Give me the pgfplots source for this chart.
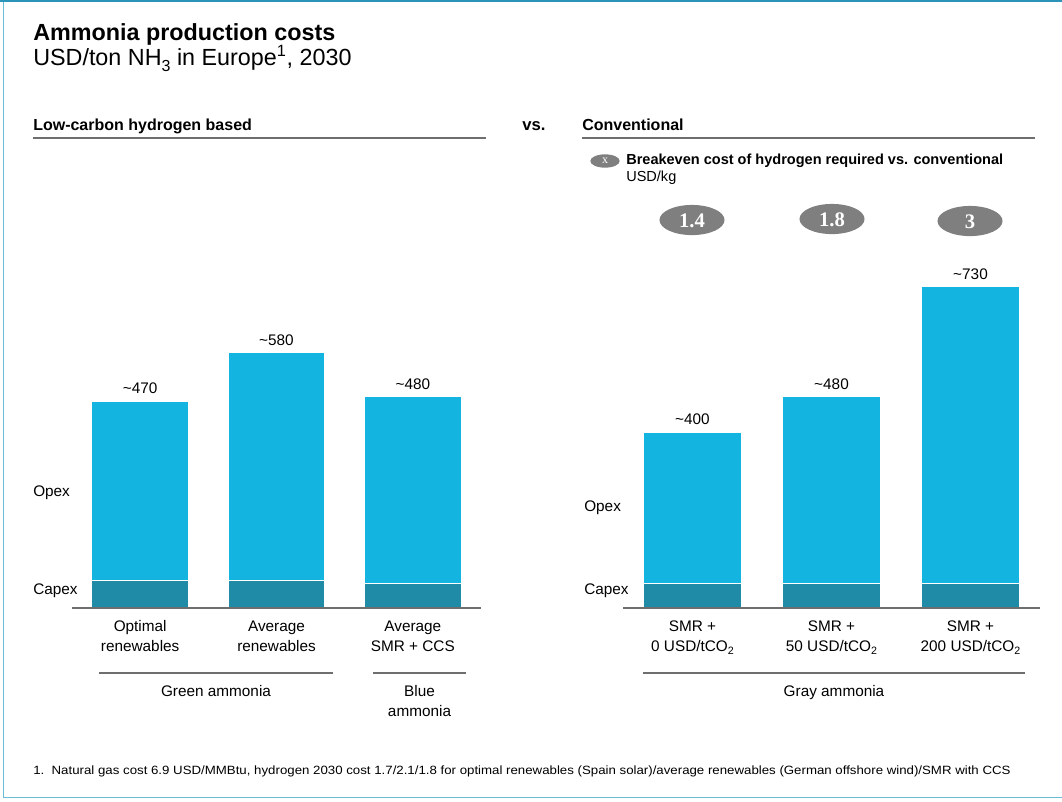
\documentclass[border=0pt]{standalone}
\usepackage{pgfplots}
\pgfplotsset{compat=1.18}
\usepackage{fontspec}
\usepackage{graphicx}
\setmainfont{Liberation Sans}
\newfontfamily\serifbold{Liberation Serif}
\definecolor{opex}{HTML}{14B4E1}
\definecolor{capex}{HTML}{1F8BA7}
\definecolor{ellgray}{HTML}{7F7F7F}
\definecolor{frametop}{HTML}{2B94B8}
\definecolor{frameleft}{HTML}{6BBCD6}
\definecolor{rule}{HTML}{6E6E6E}
\newcommand{\lbl}{\fontsize{11.5}{15}\selectfont}
\newcommand{\subl}[1]{\raisebox{-0.45ex}{\fontsize{8}{9}\selectfont #1}}
\pgfplotsset{chartstyle/.style={
  scale only axis, height=264pt,
  xmin=-0.5, xmax=2.5, ymin=0, ymax=800,
  ybar stacked, axis on top,
  axis x line=bottom, axis y line=none,
  x axis line style={-, draw=rule, line width=0.9pt},
  xtick={0,1,2}, major tick length=0pt,
  xticklabel style={align=center, font=\lbl, inner sep=0pt, yshift=-9.25pt},
  clip=false},
  toplabel/.style={opacity=0, fill opacity=0, draw opacity=0,
  nodes near coords, point meta=explicit symbolic,
  every node near coord/.append style={font=\lbl, inner sep=0pt, text=black, text opacity=1, opacity=1, anchor=south, yshift=5.5pt}}}
\begin{document}
\begin{tikzpicture}
\begin{scope}[x=0.75pt,y=-0.75pt]
\useasboundingbox (0,0) rectangle (1062,801);
% frame
\draw[frameleft, line width=0.9pt] (3.5,0) -- (3.5,797.5) -- (1062,797.5);
\draw[frametop, line width=1.8pt] (0,1.2) -- (1062,1.2);
% titles
\node[anchor=base west, inner sep=0pt, font=\bfseries\fontsize{17.5}{20}\selectfont] at (33,40) {Ammonia production costs};
\node[anchor=base west, inner sep=0pt, font=\fontsize{17.5}{20}\selectfont] at (33,65) {USD/ton NH\raisebox{-0.5ex}{\fontsize{12}{13}\selectfont 3} in Europe\textsuperscript{1}, 2030};
% section headers
\node[anchor=base west, inner sep=0pt, font=\bfseries\fontsize{12}{15}\selectfont] at (33,130) {Low-carbon hydrogen based};
\draw[rule, line width=0.8pt] (33,138) -- (486,138);
\node[anchor=base west, inner sep=0pt, font=\bfseries\fontsize{12.5}{15}\selectfont] at (522,130) {vs.};
\node[anchor=base west, inner sep=0pt, font=\bfseries\fontsize{12}{15}\selectfont] at (582,130) {Conventional};
\draw[rule, line width=0.8pt] (582,138) -- (1035,138);
% breakeven legend
\fill[ellgray] (605,161) ellipse [x radius=11pt, y radius=5pt];
\node[text=white, font=\serifbold\fontsize{9}{9}\selectfont] at (605,161) {x};
\node[anchor=base west, inner sep=0pt, font=\bfseries\fontsize{10.9}{13}\selectfont] at (626,164) {Breakeven cost of hydrogen required vs. conventional};
\node[anchor=base west, inner sep=0pt, font=\fontsize{10.9}{13}\selectfont] at (626,181) {USD/kg};
\fill[ellgray] (692,220) ellipse [x radius=24.4pt, y radius=11.3pt];
\fill[ellgray] (832,219) ellipse [x radius=24.4pt, y radius=11.3pt];
\fill[ellgray] (970,221) ellipse [x radius=24.4pt, y radius=11.3pt];
\node[text=white, font=\serifbold\bfseries\fontsize{15.5}{16}\selectfont] at (692,221) {1.4};
\node[text=white, font=\serifbold\bfseries\fontsize{15.5}{16}\selectfont] at (832,220) {1.8};
\node[text=white, font=\serifbold\bfseries\fontsize{15.5}{16}\selectfont] at (970,222) {3};
% Opex / Capex labels
\node[anchor=west, inner sep=0pt, font=\lbl] at (33,493) {Opex};
\node[anchor=west, inner sep=0pt, font=\lbl] at (33,591) {Capex};
\node[anchor=west, inner sep=0pt, font=\lbl] at (584,508) {Opex};
\node[anchor=west, inner sep=0pt, font=\lbl] at (584,591) {Capex};
% group labels
\draw[rule, line width=0.8pt] (99,673) -- (333,673);
\draw[rule, line width=0.8pt] (373,673) -- (466,673);
\draw[rule, line width=0.8pt] (643,673) -- (1025,673);
\node[anchor=base, inner sep=0pt, font=\lbl] at (216,696) {Green ammonia};
\node[anchor=base, inner sep=0pt, font=\lbl] at (419.5,696) {Blue};
\node[anchor=base, inner sep=0pt, font=\lbl] at (419.5,716) {ammonia};
\node[anchor=base, inner sep=0pt, font=\lbl] at (834,696) {Gray ammonia};
% footnote
\node[anchor=base west, inner sep=0pt, font=\fontsize{9}{11}\selectfont] at (33,774)
  {\resizebox{733pt}{\height}{1.\ \ Natural gas cost 6.9 USD/MMBtu, hydrogen 2030 cost 1.7/2.1/1.8 for optimal renewables (Spain solar)/average renewables (German offshore wind)/SMR with CCS}};
\end{scope}
% left axis
\begin{axis}[chartstyle,
  at={(54pt,-456pt)}, anchor=south west,
  width=306.75pt, bar width=72.75pt,
  xticklabels={{Optimal\\renewables},{Average\\renewables},{Average\\SMR + CCS}},
]
\addplot[fill=capex, draw=white, line width=0.8pt] coordinates {(0,62) (1,63) (2,55)};
\addplot[fill=opex, draw=white, line width=0.8pt] coordinates {(0,408) (1,517) (2,425)};
\addplot[toplabel] coordinates {(0,0.01)[\textasciitilde470] (1,0.01)[\textasciitilde580] (2,0.01)[\textasciitilde480]};
\end{axis}
% right axis
\begin{axis}[chartstyle,
  at={(467.25pt,-456pt)}, anchor=south west,
  width=312.75pt, bar width=73.5pt,
  xticklabels={{SMR +\\0 USD/tCO\subl{2}},{SMR +\\50 USD/tCO\subl{2}},{SMR +\\200 USD/tCO\subl{2}}},
]
\addplot[fill=capex, draw=white, line width=0.8pt] coordinates {(0,55) (1,55) (2,55)};
\addplot[fill=opex, draw=white, line width=0.8pt] coordinates {(0,345) (1,425) (2,675)};
\addplot[toplabel] coordinates {(0,0.01)[\textasciitilde400] (1,0.01)[\textasciitilde480] (2,0.01)[\textasciitilde730]};
\end{axis}
\end{tikzpicture}
\end{document}
